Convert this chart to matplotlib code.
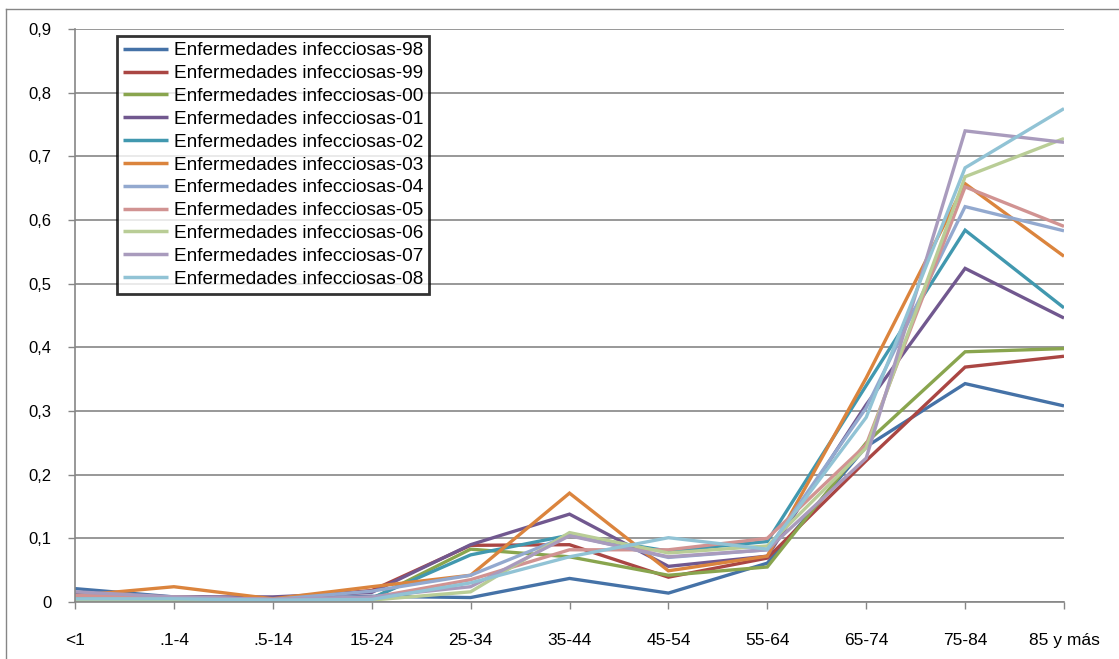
import matplotlib
matplotlib.use("Agg")
import matplotlib.pyplot as plt
from matplotlib.lines import Line2D
from matplotlib.ticker import FuncFormatter, MultipleLocator

plt.rcParams['font.family'] = ['Liberation Sans', 'DejaVu Sans']

age_groups = ["<1", ".1-4", ".5-14", "15-24", "25-34", "35-44", "45-54",
              "55-64", "65-74", "75-84", "85 y más"]

series_names = ["Enfermedades infecciosas-98", "Enfermedades infecciosas-99",
                "Enfermedades infecciosas-00", "Enfermedades infecciosas-01",
                "Enfermedades infecciosas-02", "Enfermedades infecciosas-03",
                "Enfermedades infecciosas-04", "Enfermedades infecciosas-05",
                "Enfermedades infecciosas-06", "Enfermedades infecciosas-07",
                "Enfermedades infecciosas-08"]

y98 = [0.021, 0.008, 0.004, 0.009, 0.007, 0.037, 0.014, 0.061, 0.244, 0.343, 0.308]
y99 = [0.012, 0.008, 0.005, 0.018, 0.089, 0.090, 0.039, 0.069, 0.222, 0.369, 0.386]
y00 = [0.005, 0.003, 0.003, 0.005, 0.083, 0.071, 0.042, 0.055, 0.250, 0.393, 0.398]
y01 = [0.012, 0.008, 0.008, 0.015, 0.090, 0.138, 0.056, 0.072, 0.310, 0.524, 0.446]
y02 = [0.008, 0.005, 0.004, 0.006, 0.074, 0.105, 0.080, 0.095, 0.340, 0.584, 0.462]
y03 = [0.010, 0.024, 0.005, 0.024, 0.042, 0.171, 0.049, 0.072, 0.352, 0.657, 0.543]
y04 = [0.010, 0.008, 0.004, 0.017, 0.042, 0.105, 0.070, 0.082, 0.305, 0.621, 0.583]
y05 = [0.010, 0.008, 0.004, 0.007, 0.035, 0.082, 0.082, 0.100, 0.247, 0.652, 0.590]
y06 = [0.003, 0.003, 0.002, 0.003, 0.016, 0.109, 0.077, 0.088, 0.242, 0.668, 0.728]
y07 = [0.016, 0.008, 0.004, 0.008, 0.024, 0.104, 0.071, 0.082, 0.226, 0.740, 0.722]
y08 = [0.005, 0.005, 0.003, 0.004, 0.030, 0.071, 0.101, 0.083, 0.290, 0.682, 0.775]

series_values = [y98, y99, y00, y01, y02, y03, y04, y05, y06, y07, y08]

colors = ["#4572A7", "#AA4643", "#89A54E", "#71588F", "#4198AF", "#DB843D",
          "#93A9CF", "#D19392", "#B9CD96", "#A99BBD", "#91C3D5"]

W, H = 1119, 659
fig = plt.figure(figsize=(W / 100, H / 100), dpi=100)
fig.patch.set_facecolor("white")

# chart frame (left and top edges)
fig.add_artist(Line2D([6 / W, 6 / W], [0, 1 - 9 / H], transform=fig.transFigure,
                      color="#868686", lw=1.0))
fig.add_artist(Line2D([6 / W, 1], [1 - 9 / H, 1 - 9 / H], transform=fig.transFigure,
                      color="#868686", lw=1.0))

left, right, top, bottom = 75, 1064, 29, 602
ax = fig.add_axes([left / W, 1 - bottom / H, (right - left) / W, (bottom - top) / H])

x = list(range(len(age_groups)))
for name, vals, c in zip(series_names, series_values, colors):
    ax.plot(x, vals, color=c, lw=2.4, label=name, solid_joinstyle="miter",
            solid_capstyle="butt")

ax.set_xlim(0, len(age_groups) - 1)
ax.set_ylim(0, 0.9)
ax.yaxis.set_major_locator(MultipleLocator(0.1))
ax.yaxis.set_major_formatter(FuncFormatter(
    lambda v, p: "0" if abs(v) < 1e-9 else f"{v:.1f}".replace(".", ",")))
ax.set_xticks(x)
ax.set_xticklabels(age_groups)

ax.grid(axis="y", color="#868686", lw=1.2)
ax.set_axisbelow(True)
for s in ["top", "right"]:
    ax.spines[s].set_visible(False)
for s in ["left", "bottom"]:
    ax.spines[s].set_color("#868686")
    ax.spines[s].set_linewidth(1.2)

ax.tick_params(axis="y", length=5, width=1, color="#868686", pad=12,
               labelsize=12)
ax.tick_params(axis="x", length=5, width=1, color="#868686", pad=17,
               labelsize=12.5)

leg = ax.legend(loc="upper left", bbox_to_anchor=(117 / W, 1 - 36 / H),
                bbox_transform=fig.transFigure, borderaxespad=0,
                fontsize=13.7, frameon=True, fancybox=False,
                handlelength=2.35, handletextpad=0.3, labelspacing=0.29,
                borderpad=0.32)
frame = leg.get_frame()
frame.set_edgecolor("black")
frame.set_linewidth(2.0)
for h in leg.get_lines():
    h.set_linewidth(2.5)

fig.savefig("out.png", dpi=100, facecolor="white")
